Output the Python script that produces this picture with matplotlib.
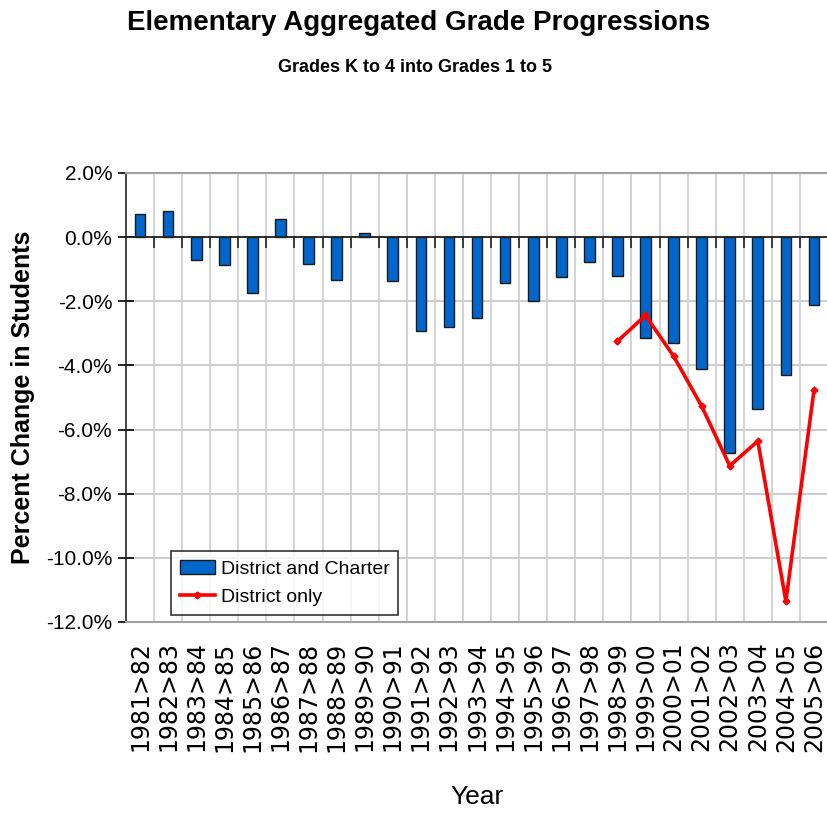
import numpy as np
import matplotlib
matplotlib.use("Agg")
import matplotlib.pyplot as plt
from matplotlib.ticker import FuncFormatter

# chart data
years = ["1981>82", "1982>83", "1983>84", "1984>85", "1985>86", "1986>87",
         "1987>88", "1988>89", "1989>90", "1990>91", "1991>92", "1992>93",
         "1993>94", "1994>95", "1995>96", "1996>97", "1997>98", "1998>99",
         "1999>00", "2000>01", "2001>02", "2002>03", "2003>04", "2004>05",
         "2005>06"]
district_charter = [0.71, 0.80, -0.70, -0.88, -1.75, 0.57, -0.83, -1.34, 0.14,
                    -1.38, -2.94, -2.80, -2.52, -1.43, -1.98, -1.25, -0.79,
                    -1.20, -3.16, -3.30, -4.12, -6.73, -5.35, -4.31, -2.11]
district_only_years = ["1998>99", "1999>00", "2000>01", "2001>02", "2002>03",
                       "2003>04", "2004>05", "2005>06"]
district_only = [-3.25, -2.44, -3.71, -5.27, -7.13, -6.36, -11.35, -4.78]

plt.rcParams["font.family"] = ["Liberation Sans", "DejaVu Sans"]

fig = plt.figure(figsize=(8.28, 8.14), dpi=100)
ax = fig.add_axes([0.1522, 0.2359, 0.8478, 0.5516])

x = np.arange(len(years))
bars = ax.bar(x, district_charter, width=0.38, color="#0066CC",
              edgecolor="#1a1a1a", linewidth=1.0,
              label="District and Charter", zorder=3)

xi = [years.index(y) for y in district_only_years]
line, = ax.plot(xi, district_only, color="#FF0000", linewidth=2.6, marker="D",
                markersize=3.5, label="District only", zorder=4)

ax.set_xlim(-0.5, len(years) - 0.5)
ax.set_ylim(-12, 2)
ax.set_yticks(np.arange(-12, 2.1, 2))
ax.yaxis.set_major_formatter(FuncFormatter(lambda v, p: f"{v:.1f}%"))
ax.tick_params(axis="y", direction="inout", length=12, width=1.2,
               labelsize=15, pad=4)

ax.set_xticks(x)
ax.set_xticklabels(years, rotation=90, family="DejaVu Sans", fontsize=17)
ax.tick_params(axis="x", length=0, pad=14)

# grid
for v in np.arange(-12, 2.1, 2):
    ax.axhline(v, color="#c8c8c8", linewidth=1.3, zorder=1)
for b in np.arange(0.5, len(years) - 0.5, 1):
    ax.axvline(b, color="#d0d0d0", linewidth=1.3, zorder=1)
ax.axhline(0, color="#222222", linewidth=1.3, zorder=3)
ax.vlines(np.arange(0.5, len(years) - 0.5, 1), 0, -0.33, color="#222222",
          linewidth=1.2, zorder=3)

for s in ["top", "bottom"]:
    ax.spines[s].set_color("#a0a0a0")
    ax.spines[s].set_linewidth(1.5)
ax.spines["right"].set_visible(False)
ax.spines["left"].set_color("#222222")
ax.spines["left"].set_linewidth(1.2)

ax.set_ylabel("Percent Change in Students", fontsize=18, fontweight="bold",
              labelpad=8)
ax.set_xlabel("Year", fontsize=19, labelpad=24)

leg = ax.legend([bars, line], ["District and Charter", "District only"],
                loc="lower left", bbox_to_anchor=(0.064, 0.016),
                frameon=True, fancybox=False, edgecolor="black",
                prop={"size": 14}, handlelength=1.8,
                handletextpad=0.3, borderpad=0.45, labelspacing=0.55,
                borderaxespad=0)
leg.get_frame().set_linewidth(1.2)

fig.text(0.505, 0.972, "Elementary Aggregated Grade Progressions",
         ha="center", va="center", fontweight="bold", fontsize=20)
fig.text(0.501, 0.917, "Grades K to 4 into Grades 1 to 5", ha="center",
         va="center", fontweight="bold", fontsize=13)

fig.savefig("out.png", dpi=100)
